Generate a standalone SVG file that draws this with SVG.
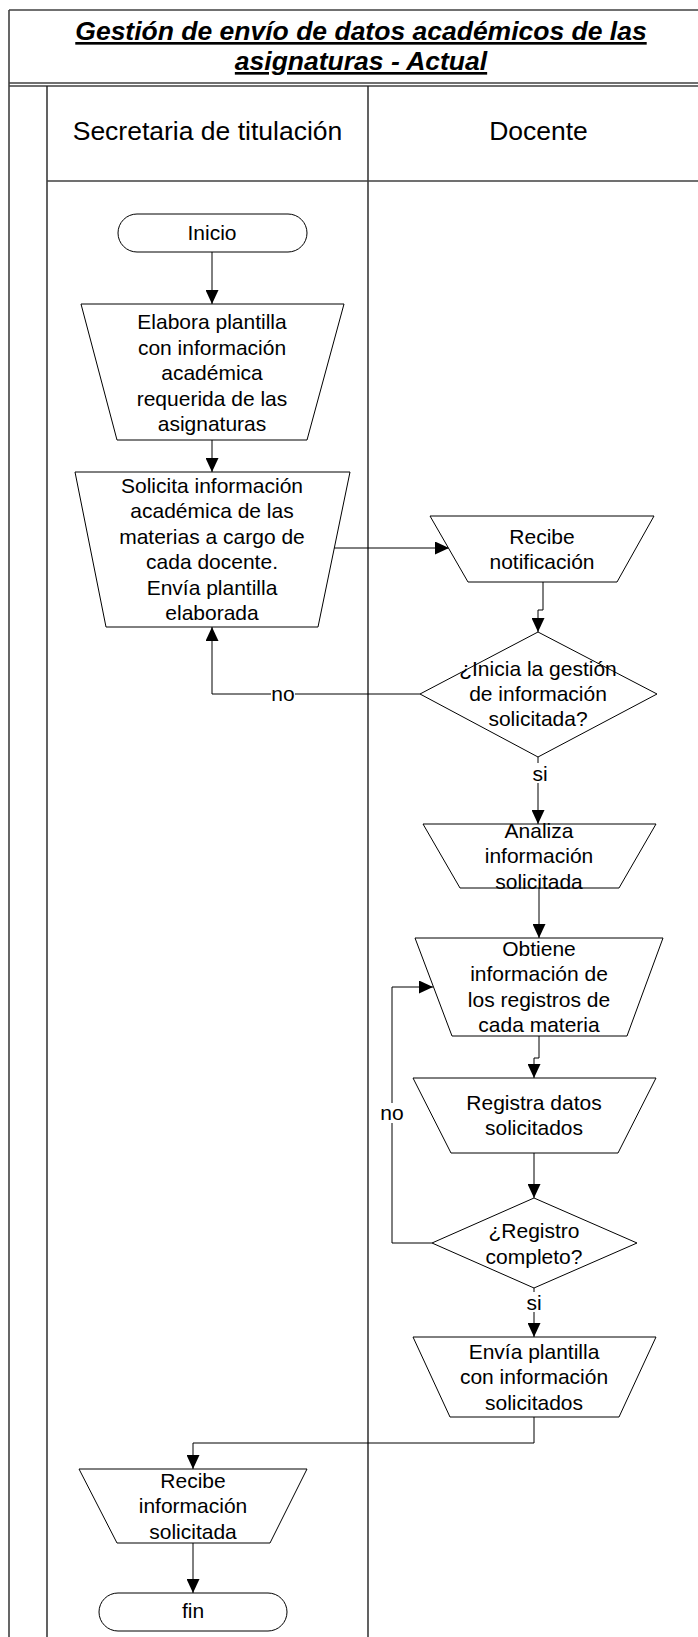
<svg xmlns="http://www.w3.org/2000/svg" width="698" height="1637" viewBox="0 0 698 1637">
<style>
  .frame{fill:none;stroke:#404040;stroke-width:1.6}
  .div{fill:none;stroke:#202020;stroke-width:1.4}
  .shape{fill:#ffffff;stroke:#000000;stroke-width:1}
  .conn{fill:none;stroke:#000000;stroke-width:1}
  .t{font-family:"Liberation Sans",Arial,sans-serif;font-size:21px;fill:#000;text-anchor:middle}
  .h{font-family:"Liberation Sans",Arial,sans-serif;font-size:26.5px;fill:#000;text-anchor:middle}
  .title{font-family:"Liberation Sans",Arial,sans-serif;font-size:26.5px;font-weight:bold;font-style:italic;text-decoration:underline;fill:#000;text-anchor:middle}
  .bg{fill:#ffffff;stroke:none}
</style>
<defs>
  <marker id="arr" markerUnits="userSpaceOnUse" markerWidth="14" markerHeight="13" refX="14" refY="6.5" orient="auto">
    <path d="M0,0 L14,6.5 L0,13 z" fill="#000"/>
  </marker>
</defs>
<rect width="698" height="1637" fill="#ffffff"/>
<g id="frame">
  <line class="frame" x1="9" y1="10" x2="698" y2="10"/>
  <line class="frame" x1="9" y1="10" x2="9" y2="1637"/>
  <line class="frame" x1="9" y1="83" x2="698" y2="83"/>
  <line class="frame" x1="9" y1="86" x2="698" y2="86"/>
  <line class="div" x1="47" y1="86" x2="47" y2="1637"/>
  <line class="div" x1="368" y1="86" x2="368" y2="1637"/>
  <line class="frame" x1="47" y1="181" x2="698" y2="181"/>
  <text class="title" x="361" y="40">Gestión de envío de datos académicos de las</text>
  <text class="title" x="361" y="70">asignaturas - Actual</text>
  <text class="h" x="207.5" y="140">Secretaria de titulación</text>
  <text class="h" x="538.5" y="140">Docente</text>
</g>
<g id="connectors">
  <path class="conn" d="M212,252 V304" marker-end="url(#arr)"/>
  <path class="conn" d="M212,440 V472" marker-end="url(#arr)"/>
  <path class="conn" d="M334,548 H449" marker-end="url(#arr)"/>
  <path class="conn" d="M543,582 V610 H538 V632" marker-end="url(#arr)"/>
  <path class="conn" d="M420,694 H212 V627" marker-end="url(#arr)"/>
  <path class="conn" d="M538,757 V824" marker-end="url(#arr)"/>
  <path class="conn" d="M539,888 V938" marker-end="url(#arr)"/>
  <path class="conn" d="M539,1036 V1058 H534 V1078" marker-end="url(#arr)"/>
  <path class="conn" d="M534,1153 V1198" marker-end="url(#arr)"/>
  <path class="conn" d="M432,1243 H392 V987 H433" marker-end="url(#arr)"/>
  <path class="conn" d="M534,1288 V1337" marker-end="url(#arr)"/>
  <path class="conn" d="M534,1417 V1443 H193 V1469" marker-end="url(#arr)"/>
  <path class="conn" d="M193,1543 V1593" marker-end="url(#arr)"/>
  <rect class="bg" x="271" y="684" width="24" height="20"/>
  <text class="t" x="283" y="701">no</text>
  <rect class="bg" x="532" y="763" width="16" height="20"/>
  <text class="t" x="540" y="781">si</text>
  <rect class="bg" x="380" y="1103" width="24" height="20"/>
  <text class="t" x="392" y="1120">no</text>
  <rect class="bg" x="526" y="1292" width="16" height="20"/>
  <text class="t" x="534" y="1310">si</text>
</g>
<g id="inicio">
  <rect class="shape" x="118" y="214" width="189" height="38" rx="19" ry="19"/>
  <text class="t" x="212" y="240">Inicio</text>
</g>
<g id="elabora">
  <polygon class="shape" points="81,304 344,304 307,440 117,440"/>
  <text class="t" x="212" y="329">Elabora plantilla</text>
  <text class="t" x="212" y="354.5">con información</text>
  <text class="t" x="212" y="380">académica</text>
  <text class="t" x="212" y="405.5">requerida de las</text>
  <text class="t" x="212" y="431">asignaturas</text>
</g>
<g id="solicita">
  <polygon class="shape" points="75,472 350,472 318,627 106,627"/>
  <text class="t" x="212" y="492.5">Solicita información</text>
  <text class="t" x="212" y="518">académica de las</text>
  <text class="t" x="212" y="543.5">materias a cargo de</text>
  <text class="t" x="212" y="569">cada docente.</text>
  <text class="t" x="212" y="594.5">Envía plantilla</text>
  <text class="t" x="212" y="620">elaborada</text>
</g>
<g id="recibe-notificacion">
  <polygon class="shape" points="430,516 654,516 617,582 468,582"/>
  <text class="t" x="542" y="544">Recibe</text>
  <text class="t" x="542" y="569">notificación</text>
</g>
<g id="decision-inicia">
  <polygon class="shape" points="538,632 657,694 538,757 420,694"/>
  <text class="t" x="538" y="676">¿Inicia la gestión</text>
  <text class="t" x="538" y="701">de información</text>
  <text class="t" x="538" y="726">solicitada?</text>
</g>
<g id="analiza">
  <polygon class="shape" points="423,824 656,824 619,888 460,888" fill="none"/>
  <text class="t" x="539" y="838">Analiza</text>
  <text class="t" x="539" y="863">información</text>
  <text class="t" x="539" y="889">solicitada</text>
</g>
<g id="obtiene">
  <polygon class="shape" points="415,938 663,938 627,1036 452,1036"/>
  <text class="t" x="539" y="955.5">Obtiene</text>
  <text class="t" x="539" y="981">información de</text>
  <text class="t" x="539" y="1006.5">los registros de</text>
  <text class="t" x="539" y="1032">cada materia</text>
</g>
<g id="registra">
  <polygon class="shape" points="413,1078 656,1078 618,1153 451,1153"/>
  <text class="t" x="534" y="1109.5">Registra datos</text>
  <text class="t" x="534" y="1135">solicitados</text>
</g>
<g id="decision-registro">
  <polygon class="shape" points="534,1198 637,1243 534,1288 432,1243"/>
  <text class="t" x="534" y="1238">¿Registro</text>
  <text class="t" x="534" y="1263.5">completo?</text>
</g>
<g id="envia">
  <polygon class="shape" points="413,1337 656,1337 619,1417 450,1417"/>
  <text class="t" x="534" y="1359">Envía plantilla</text>
  <text class="t" x="534" y="1384">con información</text>
  <text class="t" x="534" y="1409.5">solicitados</text>
</g>
<g id="recibe-informacion">
  <polygon class="shape" points="79,1469 307,1469 270,1543 117,1543"/>
  <text class="t" x="193" y="1487.5">Recibe</text>
  <text class="t" x="193" y="1513">información</text>
  <text class="t" x="193" y="1538.5">solicitada</text>
</g>
<g id="fin">
  <rect class="shape" x="99" y="1593" width="188" height="38" rx="19" ry="19"/>
  <text class="t" x="193" y="1618">fin</text>
</g>
</svg>
